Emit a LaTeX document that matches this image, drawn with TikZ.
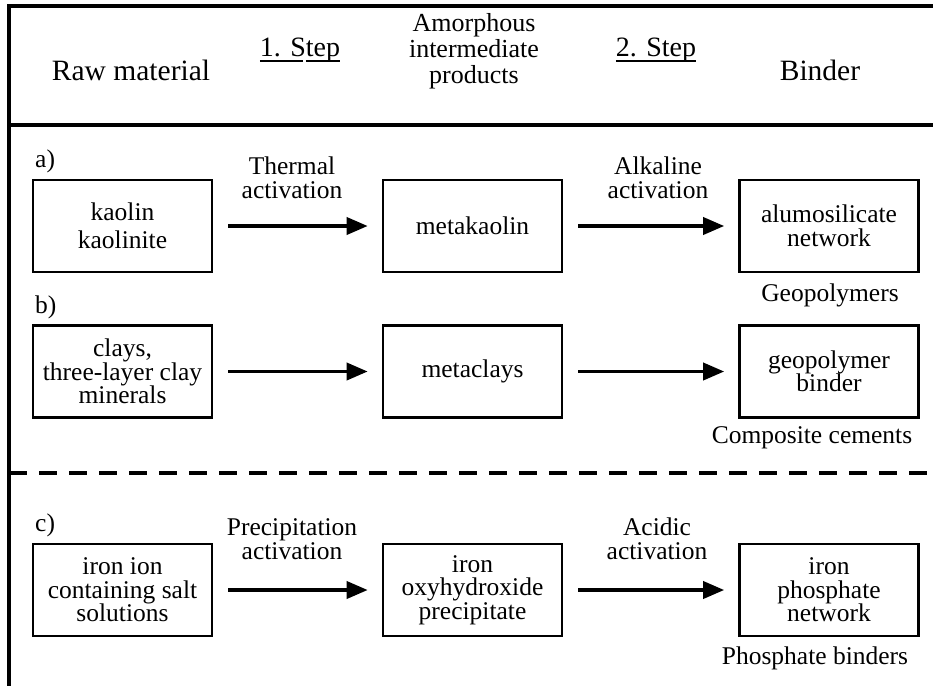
\documentclass[tikz,border=0pt]{standalone}
\usepackage{fontspec}
\setmainfont{Liberation Serif}
\usetikzlibrary{arrows.meta}
\newcommand\myul[2][0pt]{\setbox0\hbox{#2}\rlap{\rule[-5.5pt]{\dimexpr\wd0-#1\relax}{1.4pt}}\box0}
\begin{document}
\begin{tikzpicture}[x=1pt,y=-1pt,
  box/.style={draw, line width=2.6pt, minimum width=179pt, minimum height=92pt, align=center, inner sep=0pt, font=\fontsize{25.5}{23.5}\selectfont},
  lbl/.style={align=center, inner sep=0pt, font=\fontsize{25.5}{23.5}\selectfont},
  hdr/.style={inner sep=0pt, anchor=base, font=\fontsize{29.5}{30}\selectfont},
  stp/.style={inner sep=0pt, anchor=base, font=\fontsize{28}{28}\selectfont},
  arr/.style={line width=3.6pt, -{Triangle[length=21pt,width=17pt]}, shorten <=15pt, shorten >=14pt},
  frame/.style={line width=4pt}]
\useasboundingbox (0,0) rectangle (933,686);
% frame
\coordinate (tl) at (9,6);
\coordinate (tr) at (933,6);
\coordinate (bl) at (9,686);
\coordinate (h1) at (9,125);
\coordinate (h2) at (933,125);
\coordinate (d1) at (9,473);
\coordinate (d2) at (933,473);
\draw[frame] (tr) -- (tl) -- (bl);
\draw[frame] (h1) -- (h2);
\draw[frame, dash pattern=on 18pt off 12pt] (d1) -- (d2);
% header
\node[hdr] (hraw) at (131,80) {Raw material};
\node[stp] (hs1) at (300,56) {\myul[2.5pt]{1. S}\myul{tep}};
\node[align=center, inner sep=0pt, font=\fontsize{26}{26}\selectfont] (ham) at (474,51) {Amorphous\\intermediate\\products};
\node[stp] (hs2) at (656,56) {\myul{2. Step}};
\node[hdr] (hbi) at (820,80) {Binder};
% row labels
\node[lbl, anchor=west] (la) at (35,161) {a)};
\node[lbl, anchor=west] (lb) at (35,307) {b)};
\node[lbl, anchor=west] (lc) at (35,525) {c)};
% row a
\node[box] (a1) at (122.5,226) {kaolin\\[4pt]kaolinite};
\node[box] (a2) at (472.5,226) {metakaolin};
\node[box] (a3) at (829,226) {alumosilicate\\network};
\draw[arr] (a1.east) -- (a2.west);
\draw[arr] (a2.east) -- (a3.west);
\node[lbl] (ta1) at (292,178) {Thermal\\activation};
\node[lbl] (ta2) at (658,178) {Alkaline\\activation};
\node[lbl] (sa) at (830,295) {Geopolymers};
% row b
\node[box] (b1) at (122.5,371.5) {clays,\\three-layer clay\\minerals};
\node[box] (b2) at (472.5,371.5) {metaclays};
\node[box] (b3) at (829,371.5) {geopolymer\\binder};
\draw[arr] (b1.east) -- (b2.west);
\draw[arr] (b2.east) -- (b3.west);
\node[lbl] (sb) at (812,438) {Composite cements};
% row c
\node[box] (c1) at (122.5,590) {iron ion\\containing salt\\solutions};
\node[box] (c2) at (472.5,590) {iron\\oxyhydroxide\\precipitate};
\node[box] (c3) at (829,590) {iron\\phosphate\\network};
\draw[arr] (c1.east) -- (c2.west);
\draw[arr] (c2.east) -- (c3.west);
\node[lbl] (tc1) at (292,539) {Precipitation\\activation};
\node[lbl] (tc2) at (657,539) {Acidic\\activation};
\node[lbl] (sc) at (815,658) {Phosphate binders};
\end{tikzpicture}
\end{document}
